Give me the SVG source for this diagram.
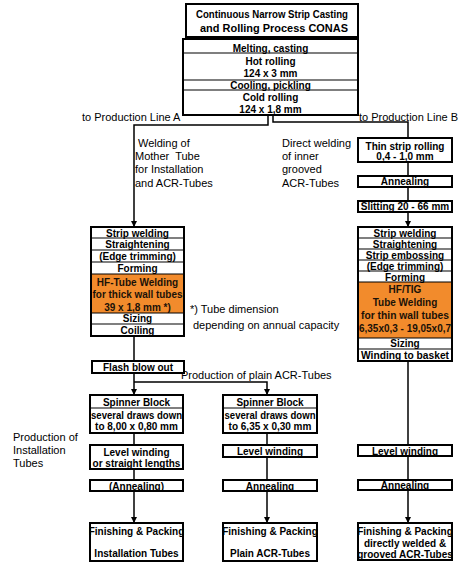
<svg xmlns="http://www.w3.org/2000/svg" width="466" height="569" viewBox="0 0 466 569">
<style>
.bg{fill:#fff}
.box{fill:#fff;stroke:#000;stroke-width:2}
.sep{stroke:#000;stroke-width:1.2}
.org{fill:#f28b2c}
.t{font-family:"Liberation Sans",Arial,sans-serif;font-weight:bold;font-size:10px;text-anchor:middle;fill:#000}
.to{fill:#1a1208}
.lbl{font-family:"Liberation Sans",Arial,sans-serif;font-size:11px;fill:#000;white-space:pre}
.conn{stroke:#000;stroke-width:1.5;fill:none}
</style>
<defs>
<marker id="ar" markerUnits="userSpaceOnUse" markerWidth="6" markerHeight="6" refX="6" refY="3" orient="auto" viewBox="0 0 6 6">
<path d="M0,0 L6,3 L0,6 z" fill="#000"/>
</marker>
</defs>
<rect class="bg" x="0" y="0" width="466" height="569"/>

<g id="connectors">
<path class="conn" d="M268,115 V125 H134 V227" marker-end="url(#ar)"/>
<path class="conn" d="M273,115 V122 H408 V138"/>
<path class="conn" d="M408,162 V176"/>
<path class="conn" d="M408,187 V201"/>
<path class="conn" d="M408,212 V227" marker-end="url(#ar)"/>
<path class="conn" d="M134,336 V361"/>
<path class="conn" d="M134,373 V395" marker-end="url(#ar)"/>
<path class="conn" d="M134,382 H267 V395" marker-end="url(#ar)"/>
<path class="conn" d="M134,433 V445"/>
<path class="conn" d="M134,469 V480"/>
<path class="conn" d="M134,491 V523" marker-end="url(#ar)"/>
<path class="conn" d="M267,433 V445"/>
<path class="conn" d="M267,457 V480"/>
<path class="conn" d="M267,491 V523" marker-end="url(#ar)"/>
<path class="conn" d="M408,361 V445"/>
<path class="conn" d="M408,456 V480"/>
<path class="conn" d="M408,490 V523" marker-end="url(#ar)"/>
</g>

<g id="title">
<rect class="box" x="186" y="4" width="172" height="33"/>
<text class="t" x="272" y="17.5" font-size="9.5" textLength="152" lengthAdjust="spacingAndGlyphs">Continuous Narrow Strip Casting</text>
<text class="t" x="274" y="32" font-size="11.5" textLength="148" lengthAdjust="spacingAndGlyphs">and Rolling Process CONAS</text>
</g>

<g id="conas">
<rect class="box" x="183" y="39" width="175" height="76"/>
<line class="sep" x1="183" y1="53" x2="358" y2="53"/>
<line class="sep" x1="183" y1="80" x2="358" y2="80"/>
<line class="sep" x1="183" y1="90" x2="358" y2="90"/>
<text class="t" x="270.5" y="51.5">Melting, casting</text>
<text class="t" x="270.5" y="64.5">Hot rolling</text>
<text class="t" x="270.5" y="77">124 x 3 mm</text>
<text class="t" x="270.5" y="88.5">Cooling, pickling</text>
<text class="t" x="270.5" y="101">Cold rolling</text>
<text class="t" x="270.5" y="113">124 x 1,8 mm</text>
</g>

<g id="labels">
<text class="lbl" x="82" y="121">to Production Line A</text>
<text class="lbl" x="359" y="121">to Production Line B</text>
<text class="lbl" x="138" y="147">Welding of</text>
<text class="lbl" x="135" y="160">Mother  Tube</text>
<text class="lbl" x="135" y="173">for Installation</text>
<text class="lbl" x="135" y="187">and ACR-Tubes</text>
<text class="lbl" x="282" y="147">Direct welding</text>
<text class="lbl" x="282" y="160">of inner</text>
<text class="lbl" x="282" y="173">grooved</text>
<text class="lbl" x="282" y="187">ACR-Tubes</text>
<text class="lbl" x="190" y="313">*) Tube dimension</text>
<text class="lbl" x="193" y="329">depending on annual capacity</text>
<text class="lbl" x="181" y="379">Production of plain ACR-Tubes</text>
<text class="lbl" x="13" y="441" font-size="11.5">Production of</text>
<text class="lbl" x="13" y="454" font-size="11.5">Installation</text>
<text class="lbl" x="13" y="467" font-size="11.5">Tubes</text>
</g>

<g id="lineA-welding">
<rect class="box" x="91" y="227" width="93" height="109"/>
<rect class="org" x="92" y="274" width="91" height="39"/>
<line class="sep" x1="91" y1="238" x2="184" y2="238"/>
<line class="sep" x1="91" y1="250" x2="184" y2="250"/>
<line class="sep" x1="91" y1="262" x2="184" y2="262"/>
<line class="sep" x1="91" y1="274" x2="184" y2="274"/>
<line class="sep" x1="91" y1="313" x2="184" y2="313"/>
<line class="sep" x1="91" y1="324" x2="184" y2="324"/>
<text class="t" x="137.5" y="236.5">Strip welding</text>
<text class="t" x="137.5" y="248">Straightening</text>
<text class="t" x="137.5" y="260">(Edge trimming)</text>
<text class="t" x="137.5" y="272">Forming</text>
<text class="t to" x="137.5" y="285.5">HF-Tube Welding</text>
<text class="t to" x="137.5" y="298" textLength="90" lengthAdjust="spacingAndGlyphs">for thick wall tubes</text>
<text class="t to" x="137.5" y="310.5">39 x 1,8 mm *)</text>
<text class="t" x="137.5" y="322">Sizing</text>
<text class="t" x="137.5" y="334">Coiling</text>
</g>

<g id="thin-strip">
<rect class="box" x="358" y="138" width="94" height="24"/>
<text class="t" x="405" y="150">Thin strip rolling</text>
<text class="t" x="405" y="160">0,4 - 1,0 mm</text>
</g>
<g id="annealing-b1">
<rect class="box" x="358" y="176" width="94" height="11"/>
<text class="t" x="405" y="185">Annealing</text>
</g>
<g id="slitting">
<rect class="box" x="358" y="201" width="94" height="11"/>
<text class="t" x="405" y="210">Slitting 20 - 66 mm</text>
</g>

<g id="lineB-welding">
<rect class="box" x="358" y="227" width="94" height="134"/>
<rect class="org" x="359" y="282" width="92" height="56"/>
<line class="sep" x1="358" y1="238" x2="452" y2="238"/>
<line class="sep" x1="358" y1="249" x2="452" y2="249"/>
<line class="sep" x1="358" y1="260" x2="452" y2="260"/>
<line class="sep" x1="358" y1="271" x2="452" y2="271"/>
<line class="sep" x1="358" y1="282" x2="452" y2="282"/>
<line class="sep" x1="358" y1="338" x2="452" y2="338"/>
<line class="sep" x1="358" y1="349" x2="452" y2="349"/>
<text class="t" x="405" y="236.5">Strip welding</text>
<text class="t" x="405" y="247.5">Straightening</text>
<text class="t" x="405" y="258.5">Strip embossing</text>
<text class="t" x="405" y="269.5">(Edge trimming)</text>
<text class="t" x="405" y="280.5">Forming</text>
<text class="t to" x="405" y="293">HF/TIG</text>
<text class="t to" x="405" y="306">Tube Welding</text>
<text class="t to" x="405" y="319" textLength="88" lengthAdjust="spacingAndGlyphs">for thin wall tubes</text>
<text class="t to" x="405" y="332" font-size="9.5" textLength="92" lengthAdjust="spacingAndGlyphs">6,35x0,3 - 19,05x0,7</text>
<text class="t" x="405" y="347">Sizing</text>
<text class="t" x="405" y="359" textLength="88" lengthAdjust="spacingAndGlyphs">Winding to basket</text>
</g>

<g id="flash">
<rect class="box" x="92" y="361" width="92" height="12"/>
<text class="t" x="138" y="371">Flash blow out</text>
</g>

<g id="spinner-a">
<rect class="box" x="90" y="395" width="93" height="38"/>
<line class="sep" x1="90" y1="408" x2="183" y2="408"/>
<text class="t" x="136.5" y="405.5">Spinner Block</text>
<text class="t" x="136.5" y="419" textLength="91" lengthAdjust="spacingAndGlyphs">several draws down</text>
<text class="t" x="136.5" y="430">to 8,00 x 0,80 mm</text>
</g>
<g id="spinner-m">
<rect class="box" x="223" y="395" width="94" height="38"/>
<line class="sep" x1="223" y1="408" x2="317" y2="408"/>
<text class="t" x="270" y="405.5">Spinner Block</text>
<text class="t" x="270" y="419" textLength="91" lengthAdjust="spacingAndGlyphs">several draws down</text>
<text class="t" x="270" y="430">to 6,35 x 0,30 mm</text>
</g>

<g id="level-a">
<rect class="box" x="90" y="445" width="93" height="24"/>
<text class="t" x="136.5" y="455.5">Level winding</text>
<text class="t" x="136.5" y="466.5">or straight lengths</text>
</g>
<g id="level-m">
<rect class="box" x="223" y="445" width="94" height="12"/>
<text class="t" x="270" y="455">Level winding</text>
</g>
<g id="level-b">
<rect class="box" x="358" y="445" width="94" height="11"/>
<text class="t" x="405" y="454.5">Level winding</text>
</g>

<g id="annealing-a">
<rect class="box" x="90" y="480" width="93" height="11"/>
<text class="t" x="136.5" y="489.5">(Annealing)</text>
</g>
<g id="annealing-m">
<rect class="box" x="223" y="480" width="94" height="11"/>
<text class="t" x="270" y="489.5">Annealing</text>
</g>
<g id="annealing-b2">
<rect class="box" x="358" y="480" width="94" height="10"/>
<text class="t" x="405" y="489">Annealing</text>
</g>

<g id="finish-a">
<rect class="box" x="90" y="523" width="93" height="38"/>
<text class="t" x="136.5" y="535">Finishing &amp; Packing</text>
<text class="t" x="136.5" y="557">Installation Tubes</text>
</g>
<g id="finish-m">
<rect class="box" x="223" y="523" width="94" height="38"/>
<text class="t" x="270" y="535">Finishing &amp; Packing</text>
<text class="t" x="270" y="557">Plain ACR-Tubes</text>
</g>
<g id="finish-b">
<rect class="box" x="358" y="523" width="94" height="37"/>
<text class="t" x="405" y="535">Finishing &amp; Packing</text>
<text class="t" x="405" y="547">directly welded &amp;</text>
<text class="t" x="405" y="558">grooved ACR-Tubes</text>
</g>
</svg>
